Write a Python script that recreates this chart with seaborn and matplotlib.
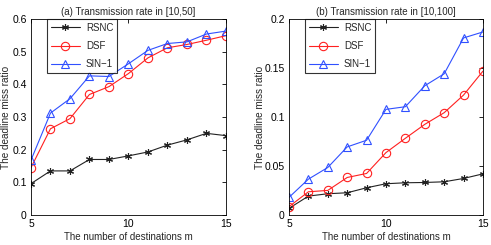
import numpy as np
import pandas as pd
import seaborn as sns
import matplotlib
matplotlib.use("Agg")
import matplotlib.pyplot as plt

m = [5, 6, 7, 8, 9, 10, 11, 12, 13, 14, 15]
series = ["RSNC", "DSF", "SIN\u22121"]

# (a) Transmission rate in [10,50]
rsnc_a = [0.096, 0.135, 0.135, 0.170, 0.170, 0.181, 0.193, 0.214, 0.230, 0.250, 0.243]
dsf_a = [0.145, 0.264, 0.295, 0.369, 0.393, 0.433, 0.481, 0.512, 0.522, 0.535, 0.549]
sin_a = [0.168, 0.312, 0.356, 0.426, 0.424, 0.463, 0.504, 0.525, 0.530, 0.554, 0.563]

# (b) Transmission rate in [10,100]
rsnc_b = [0.0068, 0.0193, 0.0217, 0.0227, 0.0278, 0.0319, 0.0329, 0.0332, 0.0339, 0.0373, 0.0420]
dsf_b = [0.0085, 0.0237, 0.0251, 0.0383, 0.0424, 0.0637, 0.0783, 0.0925, 0.1044, 0.1224, 0.1468]
sin_b = [0.0180, 0.0366, 0.0485, 0.0695, 0.0763, 0.1078, 0.1105, 0.1319, 0.1441, 0.1807, 0.1868]

sns.set_style("white")
plt.rcParams['font.family'] = ['Liberation Sans', 'DejaVu Sans']

colors = {"RSNC": "#222222", "DSF": "#ff2020", "SIN\u22121": "#3050ff"}
markers = {"RSNC": (6, 2, 0), "DSF": "o", "SIN\u22121": "^"}


def make_df(a, b, c):
    rows = []
    for name, vals in zip(series, [a, b, c]):
        for x, y in zip(m, vals):
            rows.append({"m": x, "ratio": y, "alg": name})
    return pd.DataFrame(rows)


def draw(ax, df, title, yticks, ylim, ylab_x):
    for name in series:
        sub = df[df.alg == name]
        sns.lineplot(data=sub, x="m", y="ratio", ax=ax, color=colors[name],
                     marker=markers[name], markersize=6 if name != "RSNC" else 5,
                     markerfacecolor="none" if name != "RSNC" else colors[name],
                     markeredgecolor=colors[name], markeredgewidth=0.8,
                     linewidth=0.8, label=name)
    ax.set_xlim(5, 15)
    ax.set_ylim(*ylim)
    ax.set_xticks([5, 10, 15])
    ax.set_yticks(yticks)
    ax.set_yticklabels(["0" if v == 0 else "%g" % v for v in yticks])
    ax.tick_params(direction="in", length=3, width=0.6, labelsize=7.5,
                   top=True, right=True, pad=3, colors="black")
    for s in ax.spines.values():
        s.set_linewidth(0.6)
        s.set_color("black")
    ax.set_title(title, fontsize=7, pad=3)
    ax.set_xlabel("The number of destinations m", fontsize=7, labelpad=2)
    ax.set_ylabel("The deadline miss ratio", fontsize=7.2)
    ax.yaxis.set_label_coords(ylab_x, 0.5)
    leg = ax.legend(loc="upper left", bbox_to_anchor=(0.082, 1.0), fontsize=7,
                    frameon=True, fancybox=False, edgecolor="black",
                    borderpad=0.4, labelspacing=0.85, handlelength=3.0,
                    handletextpad=0.6, borderaxespad=0)
    leg.get_frame().set_linewidth(0.8)


fig = plt.figure(figsize=(4.91, 2.45), dpi=100)
ax1 = fig.add_axes([0.0631, 0.1224, 0.397, 0.8])
ax2 = fig.add_axes([0.5886, 0.1224, 0.395, 0.8])

draw(ax1, make_df(rsnc_a, dsf_a, sin_a), "(a) Transmission rate in [10,50]",
     [0, 0.1, 0.2, 0.3, 0.4, 0.5, 0.6], (0, 0.6), -0.1)
draw(ax2, make_df(rsnc_b, dsf_b, sin_b), "(b) Transmission rate in [10,100]",
     [0, 0.05, 0.1, 0.15, 0.2], (0, 0.2), -0.124)

fig.savefig("out.png", dpi=100)
